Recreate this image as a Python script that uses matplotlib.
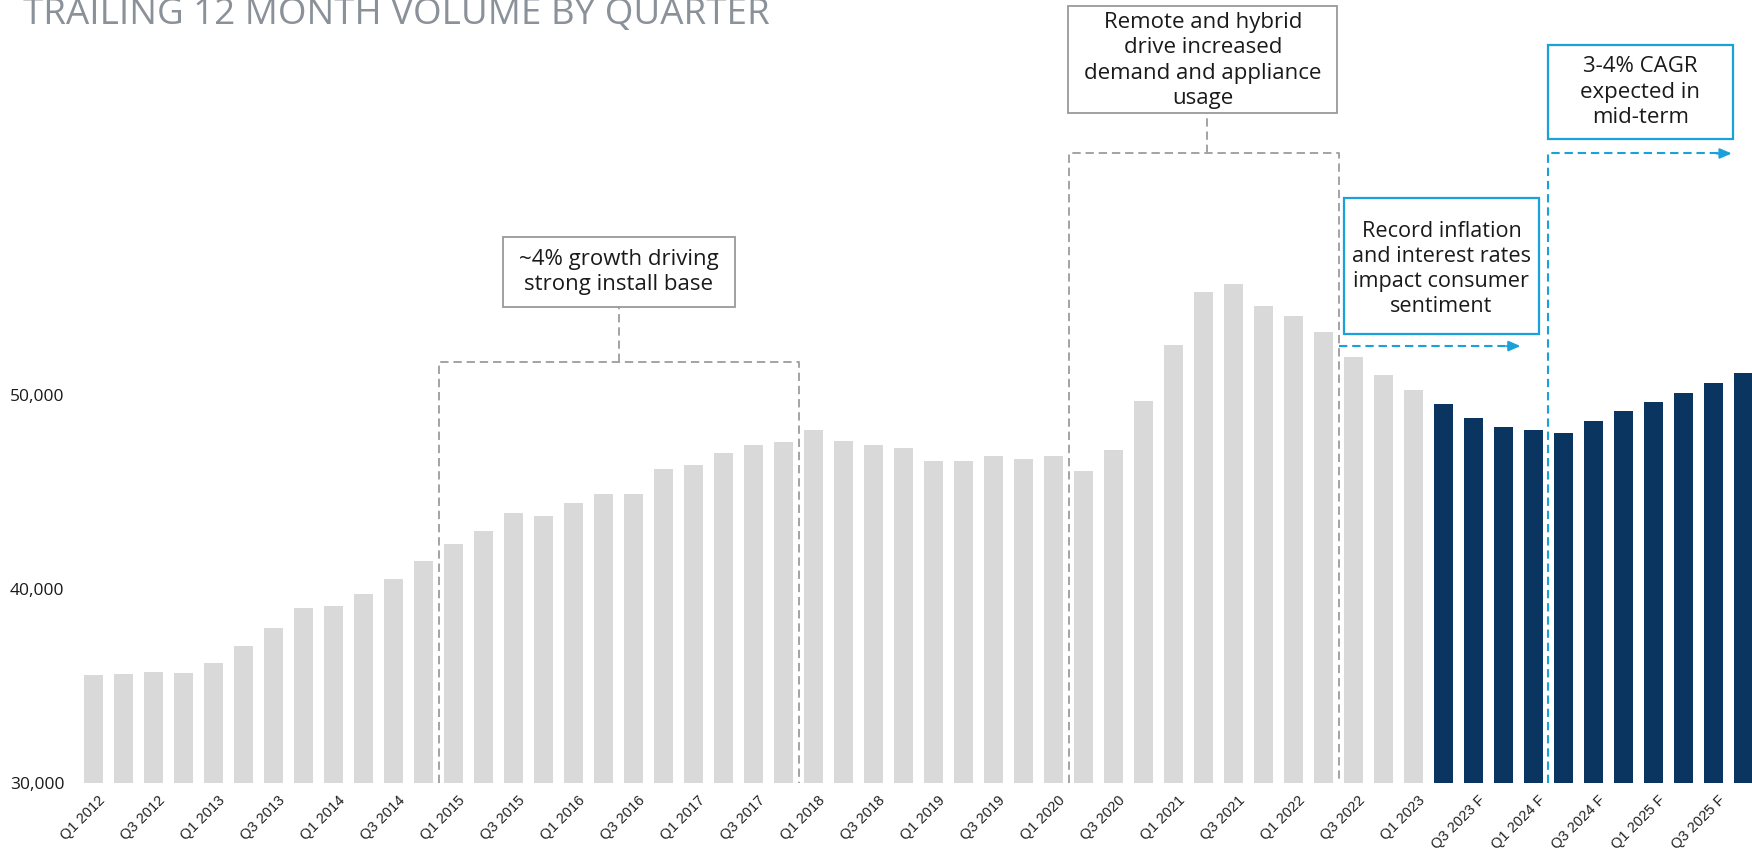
import matplotlib
matplotlib.use("Agg")
import matplotlib.pyplot as plt
from matplotlib.patches import Rectangle
import matplotlib.transforms as mtransforms

# ---------------- data ----------------
quarters = [
    "Q1 2012", "Q2 2012", "Q3 2012", "Q4 2012",
    "Q1 2013", "Q2 2013", "Q3 2013", "Q4 2013",
    "Q1 2014", "Q2 2014", "Q3 2014", "Q4 2014",
    "Q1 2015", "Q2 2015", "Q3 2015", "Q4 2015",
    "Q1 2016", "Q2 2016", "Q3 2016", "Q4 2016",
    "Q1 2017", "Q2 2017", "Q3 2017", "Q4 2017",
    "Q1 2018", "Q2 2018", "Q3 2018", "Q4 2018",
    "Q1 2019", "Q2 2019", "Q3 2019", "Q4 2019",
    "Q1 2020", "Q2 2020", "Q3 2020", "Q4 2020",
    "Q1 2021", "Q2 2021", "Q3 2021", "Q4 2021",
    "Q1 2022", "Q2 2022", "Q3 2022", "Q4 2022",
    "Q1 2023", "Q2 2023 F", "Q3 2023 F", "Q4 2023 F",
    "Q1 2024 F", "Q2 2024 F", "Q3 2024 F", "Q4 2024 F",
    "Q1 2025 F", "Q2 2025 F", "Q3 2025 F", "Q4 2025 F",
]
volume = [
    35600, 35650, 35750, 35700, 36200, 37080, 38000, 39030,
    39130, 39730, 40520, 41450, 42320, 42980, 43900, 43750,
    44450, 44900, 44900, 46200, 46420, 47030, 47400, 47580,
    48200, 47650, 47400, 47270, 46580, 46580, 46880, 46680,
    46850, 46100, 47180, 49680, 52550, 55330, 55720, 54600,
    54070, 53230, 51950, 51030, 50260, 49520, 48830, 48330,
    48210, 48030, 48660, 49160, 49640, 50120, 50620, 51120,
]
ytick_values = [30000, 40000, 50000]
ytick_labels = ["30,000", "40,000", "50,000"]
title = "TRAILING 12 MONTH VOLUME BY QUARTER"
note_growth = "~4% growth driving\nstrong install base"
note_remote = "Remote and hybrid\ndrive increased\ndemand and appliance\nusage"
note_inflation = "Record inflation\nand interest rates\nimpact consumer\nsentiment"
note_cagr = "3-4% CAGR\nexpected in\nmid-term"

# ---------------- style ----------------
GRAY_BAR = "#d9d9d9"
NAVY = "#0a3561"
DASH_GRAY = "#a3a3a3"
BLUE = "#1aa1dc"
TXT = "#1a1a1a"
plt.rcParams["lines.scale_dashes"] = False

W, H = 1752, 849
fig = plt.figure(figsize=(W / 100, H / 100), dpi=100)
px_per_unit = (783.3 - 395) / 20000.0
ytop = 30000 + 783.3 / px_per_unit
ax = fig.add_axes([72.8 / W, (H - 783.3) / H, 1 - 72.8 / W, 783.3 / H])
ax.set_xlim(-0.7, (W - 93.8) / 30.0)
ax.set_ylim(30000, ytop)

colors = [NAVY if q.endswith(" F") else GRAY_BAR for q in quarters]
xs = list(range(len(quarters)))
ax.bar(xs, [v - 30000 for v in volume], bottom=30000, width=0.645,
       color=colors, edgecolor="none", zorder=2)

for s in ax.spines.values():
    s.set_visible(False)
ax.set_yticks(ytick_values)
ax.set_yticklabels(ytick_labels, fontsize=12.5, family=["Open Sans", "DejaVu Sans"], color=TXT)
ax.tick_params(axis="y", length=0, pad=6)
ax.set_xticks(xs[::2])
ax.set_xticklabels(quarters[::2], rotation=45, ha="right", rotation_mode="anchor",
                   fontsize=10.5, family=["Liberation Sans", "DejaVu Sans"], color="#222222")
ax.tick_params(axis="x", length=0, pad=7)
offset = mtransforms.ScaledTranslation(4 / 100, 0, fig.dpi_scale_trans)
for lab in ax.get_xticklabels():
    lab.set_transform(lab.get_transform() + offset)

# title (partially cut at top like the source)
fig.text(23 / W, 1 - 23.5 / H, title, fontsize=26.5, color="#8a9199",
         family=["Open Sans", "DejaVu Sans"], ha="left", va="baseline")

def dashed(xv, yv, color, lw):
    ax.plot(xv, yv, color=color, lw=lw, dashes=(6, 3.5), clip_on=False, zorder=3,
            solid_capstyle="butt", dash_capstyle="butt")

def box(x0, x1, y0, y1, edge, lw, text, tx, ty, size=16):
    ax.add_patch(Rectangle((x0, y0), x1 - x0, y1 - y0, facecolor="white",
                           edgecolor=edge, lw=lw, clip_on=False, zorder=4))
    ax.text(tx, ty, text, ha="center", va="center", fontsize=size,
            family=["Open Sans", "DejaVu Sans"], color=TXT, linespacing=1.26,
            zorder=5, clip_on=False)

# ~4% growth bracket
dashed([11.5, 11.5, 23.5, 23.5], [30000, 51710, 51710, 30000], DASH_GRAY, 1.4)
dashed([17.5, 17.5], [51710, 54517], DASH_GRAY, 1.4)
box(13.63, 21.37, 54517, 58153, "#9a9a9a", 1.3, note_growth, 17.5, 56335)

# remote & hybrid bracket
dashed([32.5, 32.5, 41.5, 41.5], [30000, 62445, 62445, 30000], DASH_GRAY, 1.4)
dashed([37.1, 37.1], [62445, 64540], DASH_GRAY, 1.4)
box(32.48, 41.45, 64540, 70030, "#9a9a9a", 1.3, note_remote, 36.97, 67230)

# record inflation
dashed([41.5, 47.2], [52520, 52520], BLUE, 1.5)
ax.annotate("", xy=(47.56, 52520), xytext=(47.1, 52520),
            arrowprops=dict(arrowstyle="-|>,head_length=0.7,head_width=0.3",
                            color=BLUE, lw=1.5, shrinkA=0, shrinkB=0), annotation_clip=False)
box(41.67, 48.17, 53140, 60160, BLUE, 1.6, note_inflation, 44.92, 56500, size=15.6)

# 3-4% CAGR
dashed([48.46, 48.46, 54.2], [30000, 62440, 62440], BLUE, 1.5)
ax.annotate("", xy=(54.6, 62440), xytext=(54.1, 62440),
            arrowprops=dict(arrowstyle="-|>,head_length=0.7,head_width=0.3",
                            color=BLUE, lw=1.5, shrinkA=0, shrinkB=0), annotation_clip=False)
box(48.46, 54.63, 63190, 68010, BLUE, 1.6, note_cagr, 51.55, 65600)

fig.savefig("out.png", dpi=100)
